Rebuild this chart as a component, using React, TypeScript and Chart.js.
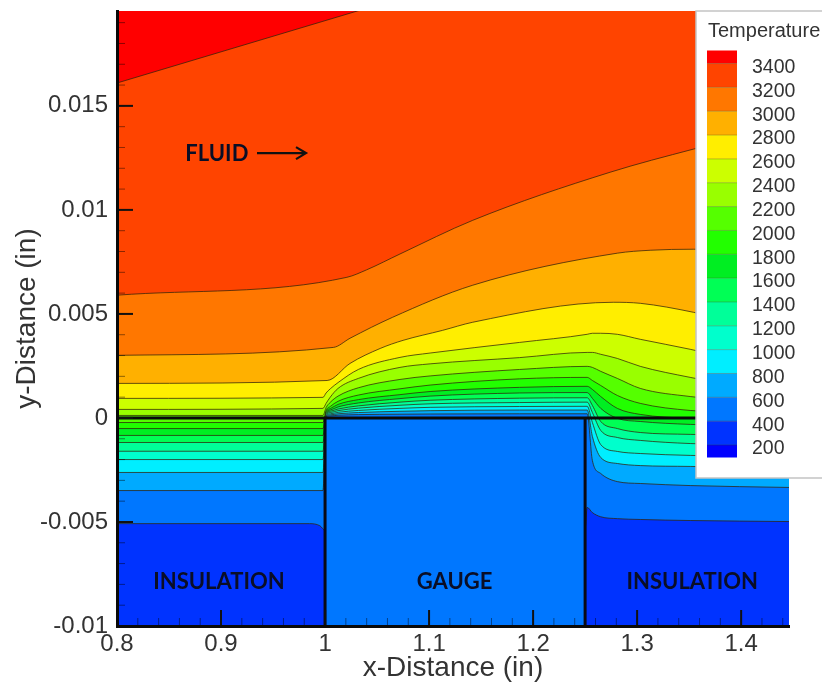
import React, { useEffect, useRef } from "react";
import { Chart, registerables } from "chart.js";

Chart.register(...registerables);

const X_MIN = 0.8;
const X_MAX = 1.446;
const Y_MIN = -0.01;
const Y_MAX = 0.01956;
const SOLID_LEFT = 1.0;
const SOLID_RIGHT = 1.25;

// Contour levels, temperature; y in thousandths of an inch
const legendLevels = [3400, 3200, 3000, 2800, 2600, 2400, 2200, 2000, 1800, 1600, 1400, 1200, 1000, 800, 600, 400, 200];
const hottestColor = "#ff0000";
const bandColors = ["#ff4400", "#ff7700", "#ffb000", "#ffee00", "#ccff00", "#99ff00", "#55ff00", "#22ff00", "#00ee22", "#00ff55", "#00ff99", "#00ffcc", "#00eeff", "#00aaff", "#0077ff", "#0033ff", "#0000ff"];

const contour3400: [number, number][] = [[0.8, 16.1], [1.031, 19.56], [1.446, 25.8]];
const contour3200: [number, number][] = [[0.8, 5.9], [1.021, 6.76], [1.04, 7.12], [1.072, 7.88], [1.142, 9.5], [1.274, 11.81], [1.354, 12.92], [1.446, 14.08]];
const contour3000: [number, number][] = [[0.8, 3.01], [1.008, 3.39], [1.024, 3.83], [1.065, 4.84], [1.142, 6.38], [1.281, 7.92], [1.3125, 8.06], [1.354, 8.11], [1.446, 8.11]];
const contour2800: [number, number][] = [[0.8, 1.66], [1.002, 1.8], [1.024, 2.62], [1.053, 3.34], [1.075, 3.73], [1.113, 4.21], [1.142, 4.6], [1.277, 5.56], [1.303, 5.51], [1.354, 5.08], [1.446, 3.97]];
const contour400: [number, number][] = [[0.8, -5.08], [0.985, -5.08], [0.995, -5.18], [1.0, -5.4], [1.25, -5.3], [1.252, -4.3], [1.257, -4.55], [1.265, -4.75], [1.281, -4.84], [1.303, -4.88], [1.351, -4.93], [1.446, -4.98]];

const contourX = [0.8, 0.998, 1.001, 1.005, 1.0125, 1.032, 1.072, 1.101, 1.187, 1.252, 1.257, 1.265, 1.281, 1.303, 1.351, 1.446];
const contour2600 = [0.94, 0.99, 1.2, 1.4, 1.7, 2.33, 2.91, 3.12, 3.63, 4.02, 4.07, 4.07, 4.02, 3.78, 3.3, 2.19];
const contour2400 = [0.41, 0.46, 0.7, 1.0, 1.42, 1.9, 2.43, 2.6, 2.9, 3.15, 3.15, 3.06, 2.86, 2.48, 1.95, 1.08];
const contour2200 = [0.12, 0.12, 0.5, 0.75, 1.05, 1.45, 1.85, 2.02, 2.33, 2.48, 2.43, 2.24, 1.9, 1.42, 1.03, 0.6];
const contour2000 = [-0.22, -0.22, 0.36, 0.55, 0.8, 1.1, 1.4, 1.58, 1.88, 1.95, 1.8, 1.56, 1.08, 0.7, 0.36, 0.17];
const contour1800 = [-0.51, -0.51, 0.3, 0.45, 0.65, 0.88, 1.12, 1.27, 1.47, 1.52, 1.37, 1.03, 0.46, 0.17, -0.02, -0.12];
const contour1600 = [-0.84, -0.84, 0.25, 0.38, 0.53, 0.72, 0.93, 1.05, 1.2, 1.22, 0.94, 0.46, -0.02, -0.17, -0.31, -0.41];
const contour1400 = [-1.18, -1.18, 0.2, 0.32, 0.43, 0.58, 0.76, 0.85, 0.95, 0.97, 0.6, -0.17, -0.51, -0.7, -0.79, -0.89];
const contour1200 = [-1.6, -1.6, 0.17, 0.26, 0.35, 0.47, 0.61, 0.68, 0.74, 0.76, 0.26, -0.6, -0.94, -1.08, -1.23, -1.32];
const contour1000 = [-2.0, -2.0, 0.13, 0.2, 0.27, 0.36, 0.46, 0.51, 0.55, 0.56, -0.22, -1.28, -1.61, -1.71, -1.8, -1.9];
const contour800 = [-2.62, -2.62, 0.1, 0.15, 0.2, 0.26, 0.32, 0.35, 0.38, 0.38, -0.89, -1.9, -2.19, -2.29, -2.33, -2.43];
const contour600 = [-3.49, -3.49, 0.06, 0.1, 0.13, 0.16, 0.18, 0.19, 0.2, 0.2, -2.05, -2.67, -3.06, -3.15, -3.25, -3.34];

const annotations = [
  { text: "FLUID", x: 0.896, y: 0.01268 },
  { text: "INSULATION", x: 0.898, y: -0.00787 },
  { text: "GAUGE", x: 1.1245, y: -0.00787 },
  { text: "INSULATION", x: 1.353, y: -0.00787 },
];
const arrowFrom = { x: 0.9346, y: 0.01273 };
const arrowTo = { x: 0.9817, y: 0.01273 };

const SANS = '"Liberation Sans", Arial, sans-serif';

const fromKnots = (ys: number[]) => ys.map((y, i) => [contourX[i], y] as [number, number]);
const contours: [number, number][][] = [
  contour3400, contour3200, contour3000, contour2800,
  fromKnots(contour2600), fromKnots(contour2400), fromKnots(contour2200), fromKnots(contour2000),
  fromKnots(contour1800), fromKnots(contour1600), fromKnots(contour1400), fromKnots(contour1200),
  fromKnots(contour1000), fromKnots(contour800), fromKnots(contour600), contour400,
];

const tickPlugin = {
  id: "inwardTicks",
  afterDatasetsDraw(chart: any) {
    const { ctx, chartArea, scales } = chart;
    const { x, y } = scales;
    ctx.save();
    ctx.strokeStyle = "rgba(0,0,0,0.45)";
    ctx.lineWidth = 1;
    for (let i = 0; i <= 32; i++) {
      const px = x.getPixelForValue(0.8 + i * 0.02);
      ctx.beginPath();
      ctx.moveTo(px, chartArea.bottom);
      ctx.lineTo(px, chartArea.bottom - 8);
      ctx.stroke();
    }
    for (let i = 0; i <= 29; i++) {
      const py = y.getPixelForValue(-0.01 + i * 0.001);
      ctx.beginPath();
      ctx.moveTo(chartArea.left, py);
      ctx.lineTo(chartArea.left + 8, py);
      ctx.stroke();
    }
    ctx.strokeStyle = "#111";
    ctx.lineWidth = 2;
    x.ticks.forEach((t: any) => {
      const px = x.getPixelForValue(t.value);
      ctx.beginPath();
      ctx.moveTo(px, chartArea.bottom);
      ctx.lineTo(px, chartArea.bottom - 16);
      ctx.stroke();
    });
    y.ticks.forEach((t: any) => {
      const py = y.getPixelForValue(t.value);
      ctx.beginPath();
      ctx.moveTo(chartArea.left, py);
      ctx.lineTo(chartArea.left + 16, py);
      ctx.stroke();
    });
    ctx.restore();
  },
};

const labelPlugin = {
  id: "regionLabels",
  afterDatasetsDraw(chart: any) {
    const { ctx, scales } = chart;
    const { x, y } = scales;
    ctx.save();
    ctx.font = 'bold 22px Lato, "Open Sans", sans-serif';
    ctx.fillStyle = "#0a0e26";
    ctx.textAlign = "center";
    ctx.textBaseline = "middle";
    annotations.forEach((a) => ctx.fillText(a.text, x.getPixelForValue(a.x), y.getPixelForValue(a.y)));
    const ax0 = x.getPixelForValue(arrowFrom.x);
    const ax1 = x.getPixelForValue(arrowTo.x);
    const ay = y.getPixelForValue(arrowFrom.y);
    ctx.strokeStyle = "#111";
    ctx.lineWidth = 2.2;
    ctx.beginPath();
    ctx.moveTo(ax0, ay);
    ctx.lineTo(ax1, ay);
    ctx.moveTo(ax1 - 10, ay - 6);
    ctx.lineTo(ax1, ay);
    ctx.lineTo(ax1 - 10, ay + 6);
    ctx.stroke();
    ctx.restore();
  },
};

const legendPlugin = {
  id: "temperatureLegend",
  afterDatasetsDraw(chart: any) {
    const { ctx } = chart;
    const boxLeft = 696;
    const boxTop = 11;
    const boxBottom = 478;
    const barLeft = 707;
    const barRight = 737;
    const barTop = 50.5;
    const barBottom = 457.5;
    const levelY = (t: number) => 445 - (t - 200) * 0.1192;
    ctx.save();
    ctx.fillStyle = "#fff";
    ctx.fillRect(boxLeft, boxTop, 822 - boxLeft, boxBottom - boxTop);
    ctx.strokeStyle = "#c4c4c4";
    ctx.lineWidth = 1.5;
    ctx.beginPath();
    ctx.moveTo(822, boxTop);
    ctx.lineTo(boxLeft, boxTop);
    ctx.lineTo(boxLeft, boxBottom);
    ctx.lineTo(822, boxBottom);
    ctx.stroke();
    ctx.fillStyle = hottestColor;
    ctx.fillRect(barLeft, barTop, barRight - barLeft, levelY(legendLevels[0]) - barTop);
    legendLevels.forEach((t, i) => {
      const top = levelY(t);
      const bottom = i + 1 < legendLevels.length ? levelY(legendLevels[i + 1]) : barBottom;
      ctx.fillStyle = bandColors[i];
      ctx.fillRect(barLeft, top, barRight - barLeft, bottom - top);
      ctx.strokeStyle = "rgba(60,60,0,0.3)";
      ctx.lineWidth = 1;
      ctx.beginPath();
      ctx.moveTo(barLeft, top);
      ctx.lineTo(barRight, top);
      ctx.stroke();
    });
    ctx.fillStyle = "#333";
    ctx.textAlign = "left";
    ctx.textBaseline = "middle";
    ctx.font = `20px ${SANS}`;
    ctx.fillText("Temperature", 708, 31);
    ctx.font = `19.5px ${SANS}`;
    legendLevels.forEach((t) => ctx.fillText(String(t), 752, levelY(t) + 4));
    ctx.restore();
  },
};

export default function App() {
  const ref = useRef<HTMLCanvasElement>(null);
  useEffect(() => {
    document.body.style.margin = "0";
    const line = (pts: [number, number][], extra: any) => ({
      data: pts.map(([x, y]) => ({ x, y: y / 1000 })),
      pointRadius: 0,
      ...extra,
    });
    const levelSets = contours.map((pts, i) =>
      line(pts, {
        label: String(legendLevels[i]),
        fill: "start",
        backgroundColor: bandColors[i],
        borderColor: "rgba(50,35,10,0.75)",
        borderWidth: 1,
        cubicInterpolationMode: "monotone",
      })
    );
    const datasets = [
      line([[X_MIN, 0], [X_MAX, 0]], { label: "surface", borderColor: "#0a0a0a", borderWidth: 3, fill: false }),
      line([[SOLID_LEFT, Y_MIN * 1000], [SOLID_LEFT, 0]], { label: "wall left", borderColor: "#0a0a14", borderWidth: 3, fill: false }),
      line([[SOLID_RIGHT, Y_MIN * 1000], [SOLID_RIGHT, 0]], { label: "wall right", borderColor: "#0a0a14", borderWidth: 3, fill: false }),
      line([[SOLID_LEFT, 0], [SOLID_RIGHT, 0]], { label: "gauge", borderWidth: 0, fill: "start", backgroundColor: "#0077ff" }),
      ...levelSets.slice().reverse(),
      line([[X_MIN, Y_MAX * 1000], [X_MAX, Y_MAX * 1000]], { label: "hottest", borderWidth: 0, fill: "start", backgroundColor: hottestColor }),
    ];
    const tickFont = { family: SANS, size: 24 };
    const titleFont = { family: SANS, size: 28 };
    const noPad = (s: any) => {
      s.paddingTop = 0;
      s.paddingBottom = 0;
      s.paddingLeft = 0;
      s.paddingRight = 0;
    };
    const chart = new Chart(ref.current as HTMLCanvasElement, {
      type: "line",
      data: { datasets } as any,
      plugins: [tickPlugin, labelPlugin, legendPlugin],
      options: {
        animation: false,
        responsive: false,
        events: [],
        layout: { padding: { left: 0, top: 11, right: 33, bottom: 0 } },
        plugins: { legend: { display: false }, tooltip: { enabled: false }, title: { display: false } },
        scales: {
          x: {
            type: "linear",
            min: X_MIN,
            max: X_MAX,
            afterFit: (s: any) => { s.height = 57; noPad(s); },
            grid: { display: false, drawTicks: false },
            border: { display: true, color: "#0a0a0a", width: 3, z: 1 },
            ticks: {
              stepSize: 0.1,
              includeBounds: false,
              autoSkip: false,
              maxRotation: 0,
              padding: 4,
              color: "#333",
              font: tickFont,
              callback: (v: any) => String(parseFloat(Number(v).toFixed(2))),
            },
            title: { display: true, text: "x-Distance (in)", color: "#333", font: titleFont, padding: { top: 0, bottom: -2 } },
          },
          y: {
            type: "linear",
            min: Y_MIN,
            max: Y_MAX,
            afterFit: (s: any) => { s.width = 117; noPad(s); },
            grid: { display: false, drawTicks: false },
            border: { display: true, color: "#0a0a0a", width: 3, z: 1 },
            ticks: {
              stepSize: 0.005,
              includeBounds: false,
              autoSkip: false,
              padding: 9,
              color: "#333",
              font: tickFont,
              callback: (v: any) => String(parseFloat(Number(v).toFixed(3))),
            },
            title: { display: true, text: "y-Distance (in)", color: "#333", font: titleFont, padding: { top: 10, bottom: 0 } },
          },
        },
      } as any,
    });
    return () => chart.destroy();
  }, []);
  return (
    <canvas
      ref={ref}
      width={822}
      height={683}
      style={{ position: "absolute", left: 0, top: 0, display: "block", filter: "blur(0.5px)" }}
    />
  );
}
